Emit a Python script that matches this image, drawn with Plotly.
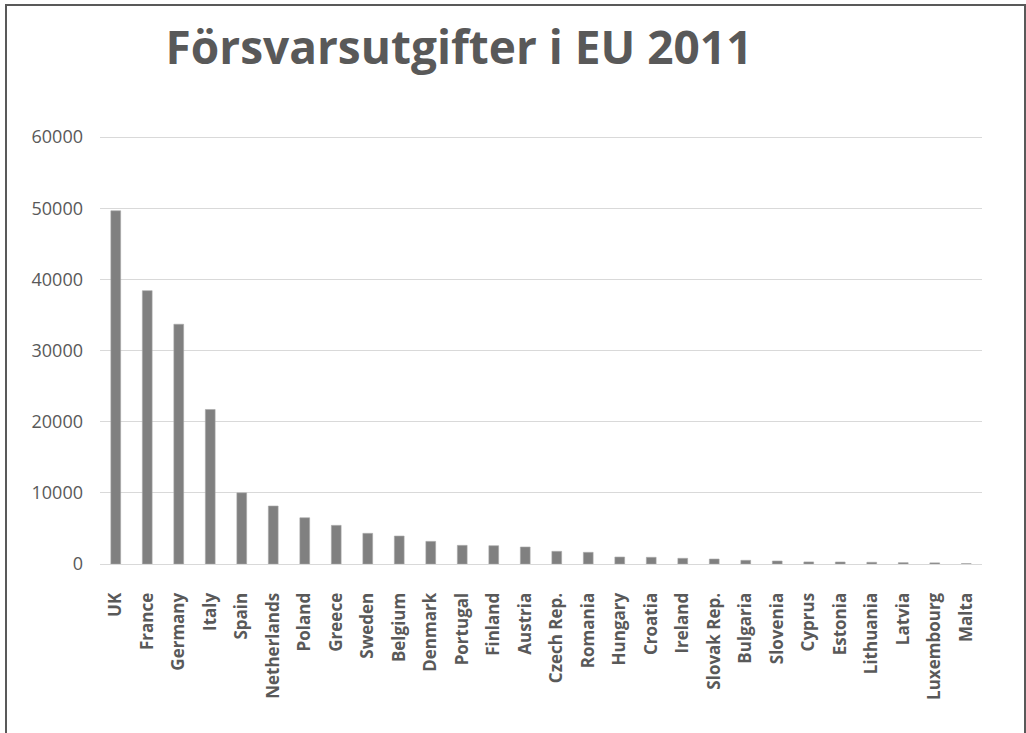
import plotly.graph_objects as go

countries = ["UK", "France", "Germany", "Italy", "Spain", "Netherlands", "Poland",
             "Greece", "Sweden", "Belgium", "Denmark", "Portugal", "Finland", "Austria",
             "Czech Rep.", "Romania", "Hungary", "Croatia", "Ireland", "Slovak Rep.",
             "Bulgaria", "Slovenia", "Cyprus", "Estonia", "Lithuania", "Latvia",
             "Luxembourg", "Malta"]
spending = [49650, 38420, 33700, 21720, 10000, 8150, 6500, 5430, 4310, 3930, 3180,
            2620, 2570, 2390, 1780, 1640, 980, 940, 800, 700, 520, 420, 290, 280,
            240, 190, 160, 50]
y_ticks = [0, 10000, 20000, 30000, 40000, 50000, 60000]
title_text = "Försvarsutgifter i EU 2011"

W, H = 1026, 733
L, R, T, B = 100, 44, 135, 169
pw, ph = W - L - R, H - T - B

fig = go.Figure(go.Bar(
    x=countries, y=spending,
    marker=dict(color="#808080", line=dict(color="#a6a6a6", width=0.6)),
    width=0.31,
))

def px_x(p):
    return (p - L) / pw

def px_y(p):
    return (H - B - p) / ph

fig.update_layout(
    width=W, height=H,
    margin=dict(l=L, r=R, t=T, b=B),
    paper_bgcolor="white", plot_bgcolor="white",
    showlegend=False,
    title=dict(text="<b>" + title_text + "</b>", xref="container", yref="container",
               x=459 / W, y=1 - 48 / H, xanchor="center", yanchor="middle",
               font=dict(family="Open Sans", size=46, color="#595959")),
    xaxis=dict(tickangle=-90, showgrid=False, showline=True, linecolor="#d9d9d9",
               linewidth=1, ticks="", ticklabelstandoff=21,
               tickfont=dict(family="Open Sans", size=17, color="#595959", weight="bold"),
               range=[-0.5, len(countries) - 0.5]),
    yaxis=dict(range=[0, 60300], tickvals=y_ticks, tickformat="d",
               showgrid=True, gridcolor="#d9d9d9", gridwidth=1, zeroline=False,
               ticks="", ticklabelstandoff=16,
               tickfont=dict(family="Open Sans", size=18, color="#595959")),
    shapes=[dict(type="rect", xref="paper", yref="paper",
                 x0=px_x(6), x1=px_x(1025), y0=px_y(760), y1=px_y(5),
                 line=dict(color="#595959", width=2), fillcolor="rgba(0,0,0,0)",
                 layer="above")],
)

fig.write_html("out.html", config={"displayModeBar": False},
               post_script="document.body.style.margin='0';document.body.style.overflow='hidden';")
